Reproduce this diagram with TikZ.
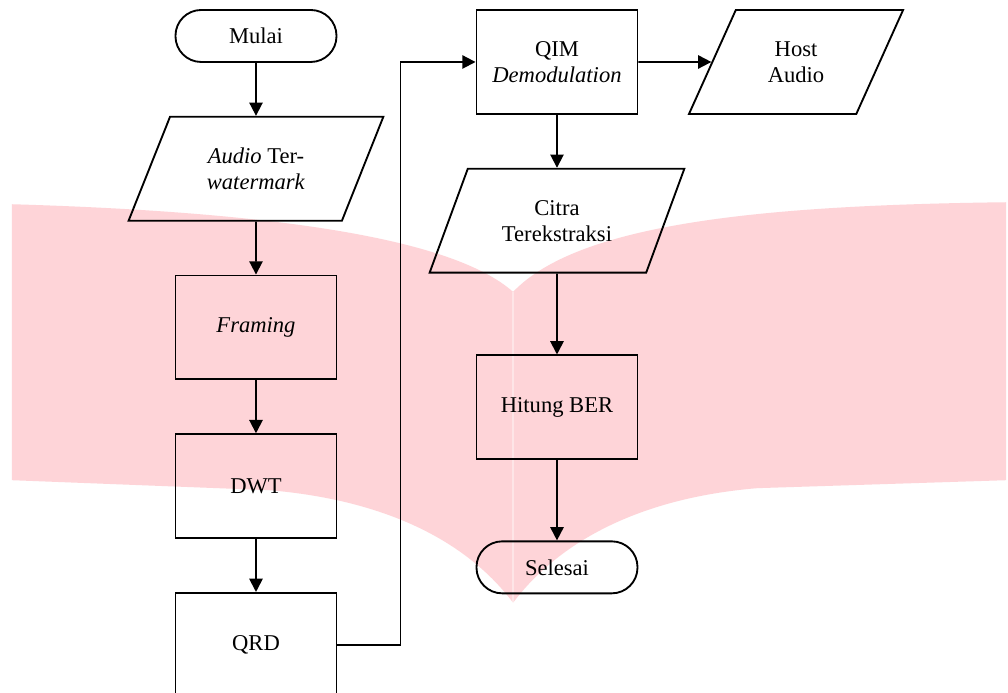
\documentclass[tikz,border=0pt]{standalone}
\usepackage{fontspec}
\setmainfont{Liberation Serif}
\usetikzlibrary{positioning, shapes, arrows.meta}
\definecolor{wmpink}{RGB}{254,212,216}

\begin{document}
\begin{tikzpicture}[
      node distance=1.4cm and 1.93cm,
      font=\fontsize{17}{19.5}\selectfont,
      line width=1.4pt,
      term/.style={draw, rounded corners=0.68cm, minimum width=4.26cm, minimum height=1.376cm},
      proc/.style={draw, rectangle, minimum width=4.26cm, minimum height=2.75cm, align=center},
      io/.style={draw, trapezium, trapezium left angle=63, trapezium right angle=117,
                 trapezium stretches=true, minimum height=2.75cm, minimum width=6.75cm, align=center},
      flow/.style={-{Triangle[length=10pt,width=10pt]}}]
    \fill[white] (0,0) rectangle (26.67,-18.335);
    \useasboundingbox (0,0) rectangle (26.67,-18.335);
    % watermark:
    \begin{scope}[x=0.75pt, y=-0.75pt]
      \fill[wmpink] (12,205) .. controls (250,212) and (450,235) .. (515,293)
        .. controls (580,225) and (760,206) .. (1010,203) -- (1010,482) -- (760,490)
        .. controls (640,500) and (560,545) .. (515,605)
        .. controls (470,545) and (390,502) .. (270,492) -- (12,482) -- cycle;
      \draw[white, opacity=0.4, line width=1pt] (515,293) -- (515,605);
    \end{scope}
    \node[term] (mulai) at (6.773,-0.952) {Mulai};
    \node[io] (audio) [below=of mulai] {\textit{Audio} Ter-\\\textit{watermark}};
    \node[proc] (framing) [below=of audio] {\textit{Framing}};
    \node[proc] (dwt) [below=of framing] {DWT};
    \node[proc] (qrd) [below=of dwt] {QRD};
    \node[proc] (qim) at (14.737,-1.640) {QIM\\\textit{Demodulation}};
    \node[io, minimum width=5.69cm] (host) [right=of qim] {Host\\Audio};
    \node[io] (citra) [below=of qim] {Citra\\Terekstraksi};
    \node[proc] (ber) [below=2.14cm of citra] {Hitung BER};
    \node[term] (selesai) [below=2.12cm of ber] {Selesai};
    \draw[flow] (mulai) -- (audio);
    \draw[flow] (audio) -- (framing);
    \draw[flow] (framing) -- (dwt);
    \draw[flow] (dwt) -- (qrd);
    \draw[flow] (qrd.east) -- ++(1.67,0) |- (qim.west);
    \draw[flow] (qim) -- (host);
    \draw[flow] (qim) -- (citra);
    \draw[flow] (citra) -- (ber);
    \draw[flow] (ber) -- (selesai);
\end{tikzpicture}
\end{document}
